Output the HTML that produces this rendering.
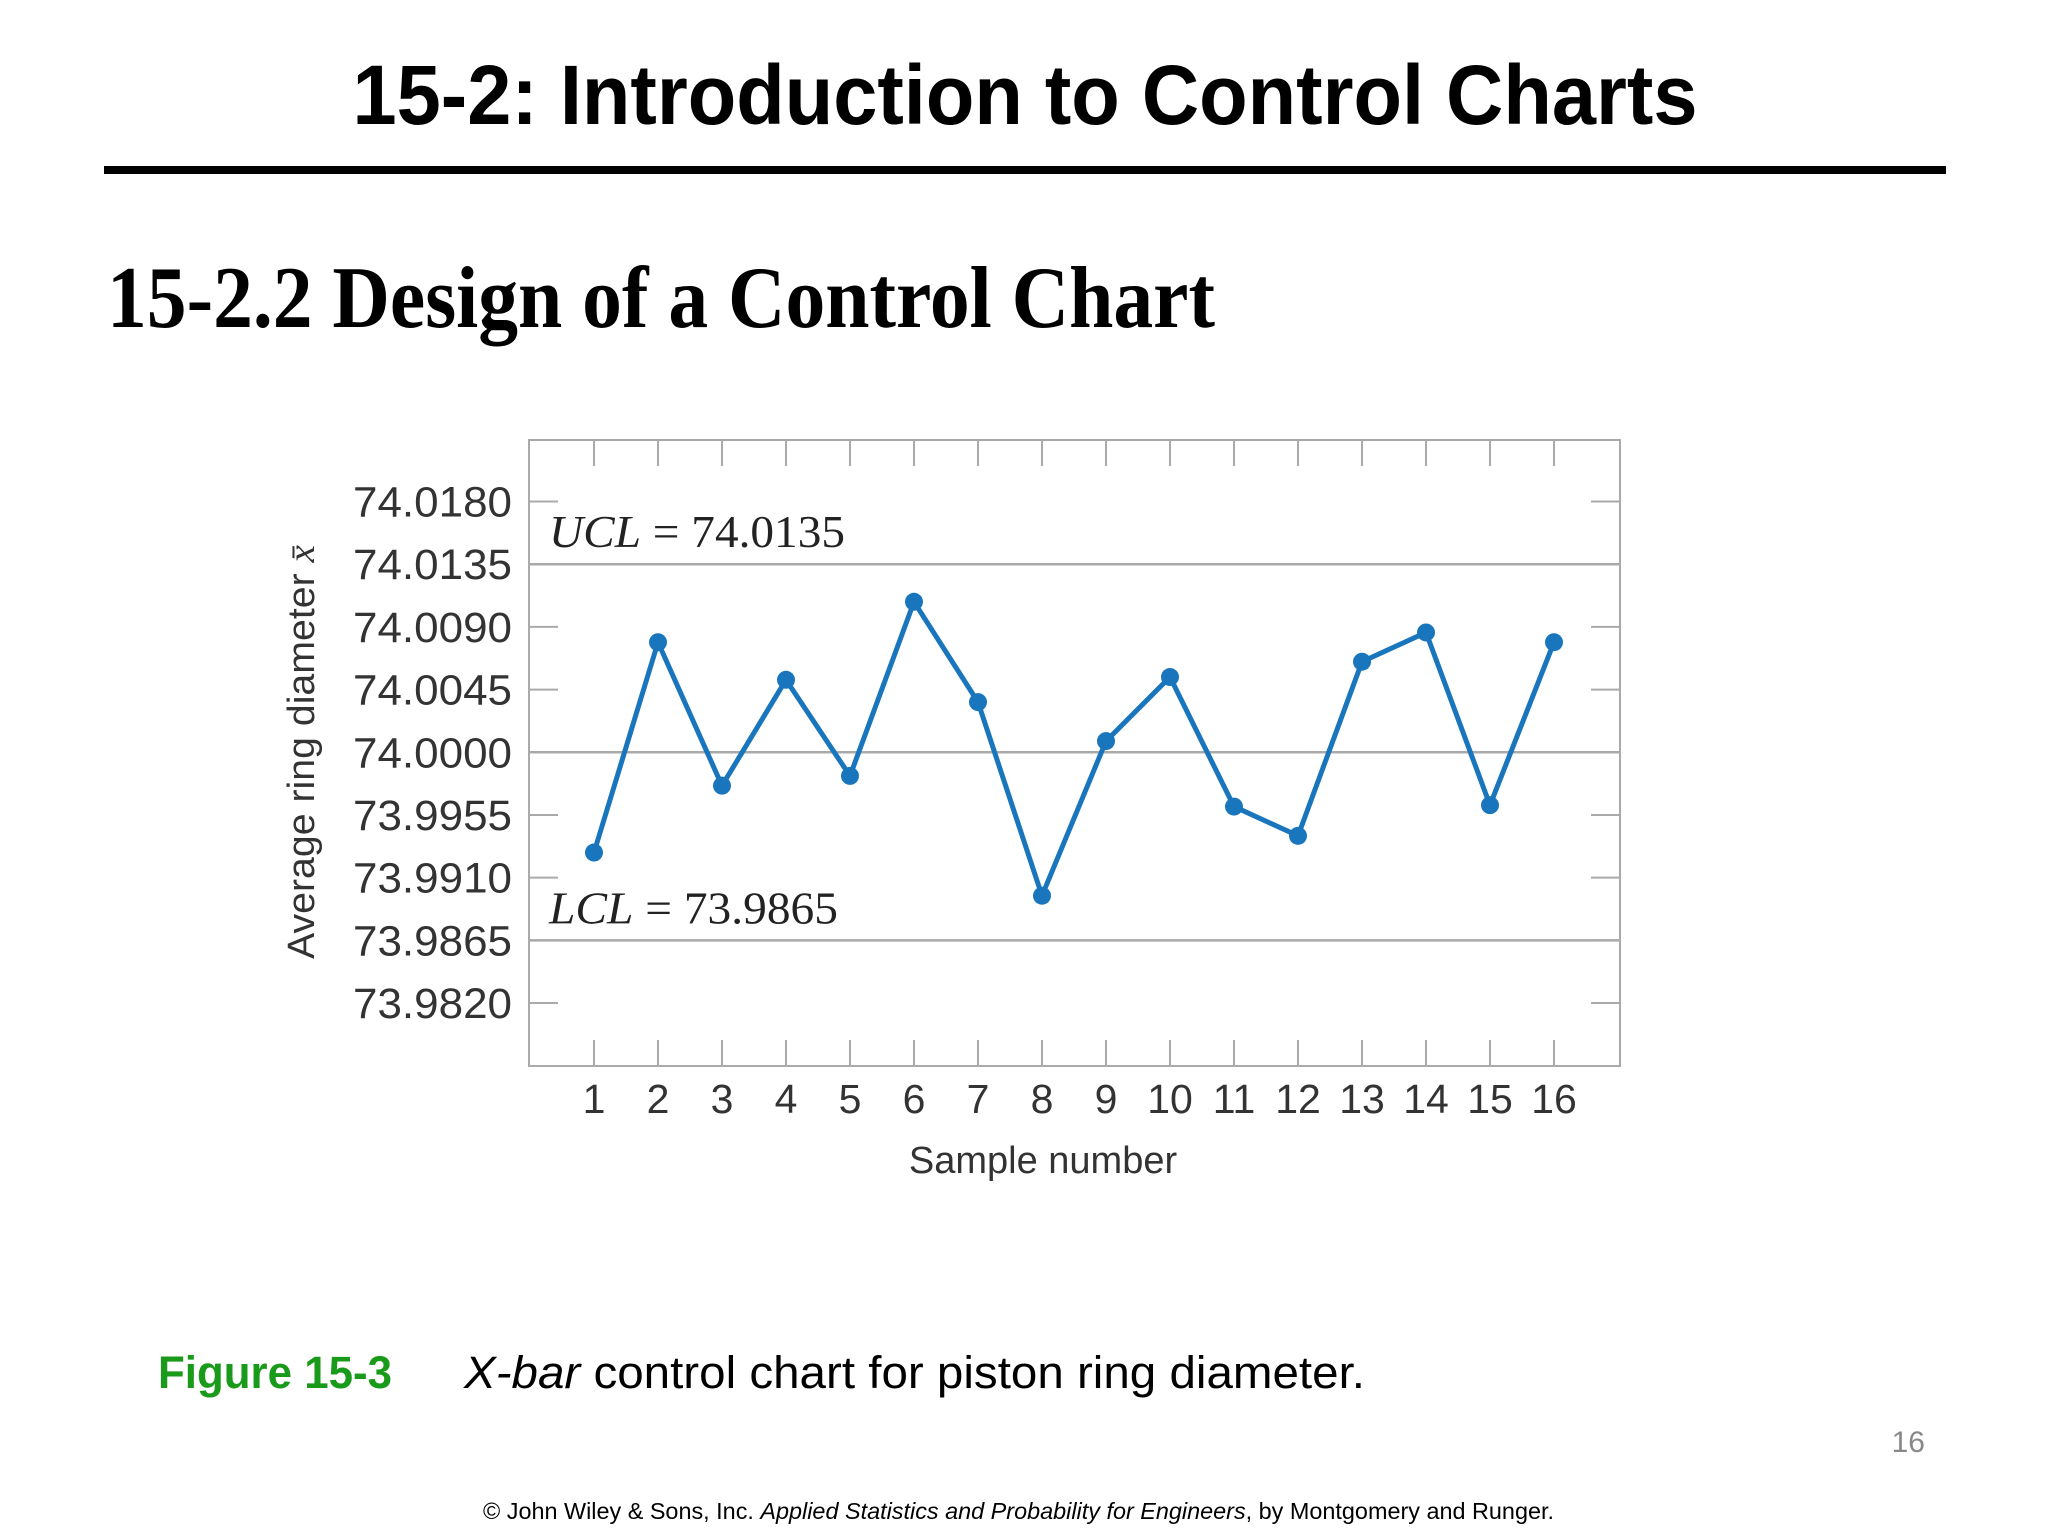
<!DOCTYPE html>
<html><head><meta charset="utf-8"><style>html,body{margin:0;padding:0;background:#fff}svg{display:block}</style></head>
<body>
<svg id="page" width="2048" height="1536" viewBox="0 0 2048 1536" xmlns="http://www.w3.org/2000/svg">
<rect width="2048" height="1536" fill="#fff"/>
<text x="1025" y="124" text-anchor="middle" font-family="Liberation Sans, sans-serif" font-weight="bold" font-size="84" textLength="1345" lengthAdjust="spacingAndGlyphs" fill="#000">15-2: Introduction to Control Charts</text>
<rect x="104" y="166" width="1842" height="8" fill="#000"/>
<text x="107" y="327" font-family="Liberation Serif, serif" font-weight="bold" font-size="88" textLength="1108" lengthAdjust="spacingAndGlyphs" fill="#000">15-2.2 Design of a Control Chart</text>
<g id="chart"></g>
<text x="158" y="1388" font-family="Liberation Sans, sans-serif" font-weight="bold" font-size="45" textLength="234" lengthAdjust="spacingAndGlyphs" fill="#1a9a1a">Figure 15-3</text>
<text x="464" y="1388" font-family="Liberation Sans, sans-serif" font-size="45" textLength="901" lengthAdjust="spacingAndGlyphs" fill="#000"><tspan font-style="italic">X-bar</tspan> control chart for piston ring diameter.</text>
<text x="1925" y="1452" text-anchor="end" font-family="Liberation Sans, sans-serif" font-size="30" fill="#888">16</text>
<text x="483" y="1519" font-family="Liberation Sans, sans-serif" font-size="23" textLength="1071" lengthAdjust="spacingAndGlyphs" fill="#000">© John Wiley &amp; Sons, Inc.  <tspan font-style="italic">Applied Statistics and Probability for Engineers</tspan>, by Montgomery and Runger.</text>
</svg>
<script>
const samples = [1,2,3,4,5,6,7,8,9,10,11,12,13,14,15,16];
const means = [73.9928,74.0079,73.9976,74.0052,73.9983,74.0108,74.0036,73.9897,74.0008,74.0054,73.9961,73.9940,74.0065,74.0086,73.9962,74.0079];
const yTicks = [74.0180,74.0135,74.0090,74.0045,74.0000,73.9955,73.9910,73.9865,73.9820];
const yTickLabels = ["74.0180","74.0135","74.0090","74.0045","74.0000","73.9955","73.9910","73.9865","73.9820"];
const UCL = 74.0135, CL = 74.0000, LCL = 73.9865;

const NS = "http://www.w3.org/2000/svg";
const g = document.getElementById('chart');
const L = 529, R = 1620, T = 440, B = 1066;
const xs = v => 594 + (v - 1) * (1554 - 594) / 15;
const ys = v => 501.5 + (74.0180 - v) * (1003 - 501.5) / (74.0180 - 73.9820);
function mk(tag, attrs, parent) {
  const e = document.createElementNS(NS, tag);
  for (const k in attrs) e.setAttribute(k, attrs[k]);
  (parent || g).appendChild(e);
  return e;
}
const frame = mk('rect', {x:L, y:T, width:R-L, height:B-T, fill:'none', stroke:'#aaa', 'stroke-width':2});


samples.forEach(s => {
  const x = xs(s);
  const t1 = mk('line', {x1:x, x2:x, y1:T, y2:T+26, stroke:'#aaa', 'stroke-width':2});
  
  
  const t2 = mk('line', {x1:x, x2:x, y1:B-26, y2:B, stroke:'#aaa', 'stroke-width':2});
  
  
  const lb = mk('text', {x:x, y:1113, 'text-anchor':'middle', 'font-family':'Liberation Sans, sans-serif', 'font-size':41, fill:'#333'});
  lb.textContent = s;
  
  
});
yTicks.forEach((v, i) => {
  const y = ys(v);
  const a = mk('line', {x1:L, x2:L+29, y1:y, y2:y, stroke:'#aaa', 'stroke-width':2});
  
  
  const b = mk('line', {x1:R-29, x2:R, y1:y, y2:y, stroke:'#aaa', 'stroke-width':2});
  
  
  const lb = mk('text', {x:512, y:y+15, 'text-anchor':'end', 'font-family':'Liberation Sans, sans-serif', 'font-size':43, fill:'#333', textLength:159, lengthAdjust:'spacingAndGlyphs'});
  lb.textContent = yTickLabels[i];
  
  
});
[[UCL,'ucl-line'],[CL,'center-line'],[LCL,'lcl-line']].forEach(([v,n]) => {
  const l = mk('line', {x1:L, x2:R, y1:ys(v), y2:ys(v), stroke:'#aaa', 'stroke-width':2.5});
  
  
});
const u = mk('text', {x:549, y:ys(UCL)-17, 'font-family':'Liberation Serif, serif', 'font-size':45, fill:'#222', textLength:296, lengthAdjust:'spacingAndGlyphs'});
u.innerHTML = '<tspan font-style="italic">UCL</tspan> = 74.0135';


const lc = mk('text', {x:549, y:ys(LCL)-17, 'font-family':'Liberation Serif, serif', 'font-size':45, fill:'#222', textLength:289, lengthAdjust:'spacingAndGlyphs'});
lc.innerHTML = '<tspan font-style="italic">LCL</tspan> = 73.9865';


const pts = samples.map((s, i) => xs(s) + ',' + ys(means[i])).join(' ');
const pl = mk('polyline', {points:pts, fill:'none', stroke:'#1a76bc', 'stroke-width':5, 'stroke-linejoin':'miter'});


samples.forEach((s, i) => {
  const c = mk('circle', {cx:xs(s), cy:ys(means[i]), r:9, fill:'#1a76bc'});
  
  
});
const xt = mk('text', {x:1043, y:1173, 'text-anchor':'middle', 'font-family':'Liberation Sans, sans-serif', 'font-size':38, fill:'#333'});
xt.textContent = 'Sample number';


const yt = mk('text', {x:0, y:0, 'text-anchor':'middle', 'font-family':'Liberation Sans, sans-serif', 'font-size':38, fill:'#333', transform:'translate(314,752) rotate(-90)', textLength:414, lengthAdjust:'spacingAndGlyphs'});
yt.innerHTML = 'Average ring diameter <tspan font-family="Liberation Serif, serif" font-style="italic">x̄</tspan>';


</script>
</body></html>
